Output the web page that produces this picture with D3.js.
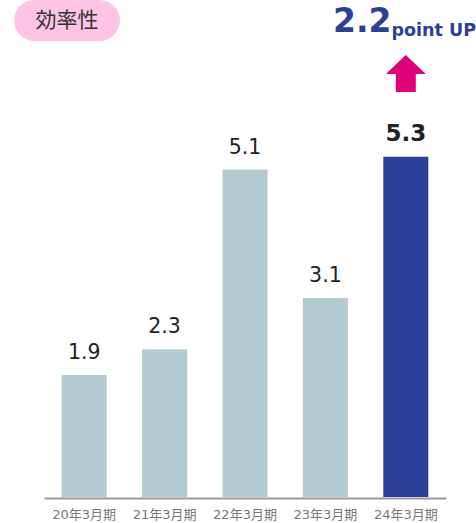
<!DOCTYPE html>
<html>
<head>
<meta charset="utf-8">
<script src="https://cdn.jsdelivr.net/npm/d3@7"></script>
<style>
  html, body { margin: 0; padding: 0; background: #fff; }
  text { font-family: "DejaVu Sans", "Noto Sans CJK JP", sans-serif; }
</style>
</head>
<body>
<div id="chart"></div>
<script>
// data
var g_periods = ["20年3月期", "21年3月期", "22年3月期", "23年3月期", "24年3月期"];
var g_values = [1.9, 2.3, 5.1, 3.1, 5.3];
var g_title = "効率性";
var g_delta = "2.2";
var g_delta_unit = "point UP";

var g_width = 476, g_height = 523;

var g_svg = d3.select("#chart")
  .append("svg")
    .attr("width", g_width)
    .attr("height", g_height);

var x = d3.scaleBand()
    .domain(g_periods)
    .range([44, 446])
    .paddingInner(0.44)
    .paddingOuter(0.22);

var y = d3.scaleLinear()
    .domain([0, 6])
    .range([497, 497 - 6 * 64.2]);

var last = g_periods.length - 1;

// bars
g_svg.append("g")
  .selectAll("rect")
  .data(g_values)
  .join("rect")
    .attr("x", function (d, i) { return x(g_periods[i]); })
    .attr("y", function (d) { return y(d); })
    .attr("width", x.bandwidth())
    .attr("height", function (d) { return y(0) - y(d); })
    .attr("fill", function (d, i) { return i === last ? "#2b3f98" : "#b3cad1"; });

// value labels
g_svg.append("g")
  .selectAll("text")
  .data(g_values)
  .join("text")
    .attr("x", function (d, i) { return x(g_periods[i]) + x.bandwidth() / 2; })
    .attr("y", function (d) { return y(d) - 16; })
    .attr("text-anchor", "middle")
    .attr("font-size", function (d, i) { return i === last ? 23 : 20.5; })
    .attr("font-weight", function (d, i) { return i === last ? "bold" : "normal"; })
    .attr("fill", "#222")
    .text(function (d) { return d3.format(".1f")(d); });

// axis
var axis = g_svg.append("g")
    .attr("transform", "translate(0," + 498 + ")")
    .call(d3.axisBottom(x).tickSize(0).tickPadding(12));
axis.select(".domain")
    .attr("stroke", "#9a9a9a")
    .attr("stroke-width", 2);
axis.selectAll("text")
    .attr("font-size", 13)
    .attr("fill", "#777")
    .style("font-family", "\"DejaVu Sans\", \"Noto Sans CJK JP\", sans-serif");

// title pill
g_svg.append("rect")
    .attr("x", 14)
    .attr("y", 0)
    .attr("width", 106)
    .attr("height", 41)
    .attr("rx", 20.5)
    .attr("fill", "#ffc4e3");
g_svg.append("text")
    .attr("x", 67)
    .attr("y", 27)
    .attr("text-anchor", "middle")
    .attr("font-size", 21)
    .attr("fill", "#333")
    .style("font-family", "\"Noto Sans CJK JP\", sans-serif")
    .text(g_title);

// delta headline
var head = g_svg.append("text")
    .attr("x", 476)
    .attr("y", 32)
    .attr("text-anchor", "end")
    .attr("fill", "#2b3f98")
    .attr("font-weight", "bold");
head.append("tspan")
    .attr("font-size", 33)
    .text(g_delta);
head.append("tspan")
    .attr("font-size", 17.5)
    .attr("dy", 4)
    .text(g_delta_unit);

// arrow
var cx = x(g_periods[last]) + x.bandwidth() / 2;
g_svg.append("path")
    .attr("d", "M" + cx + ",55 L" + (cx + 20) + ",74 L" + (cx + 10) + ",74 L" + (cx + 10) + ",92 L"
        + (cx - 10) + ",92 L" + (cx - 10) + ",74 L" + (cx - 20) + ",74 Z")
    .attr("fill", "#e0007a");
</script>
</body>
</html>
